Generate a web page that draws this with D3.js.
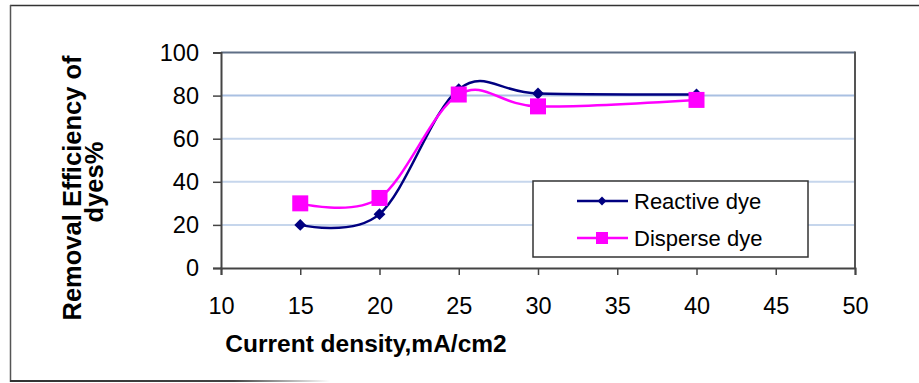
<!DOCTYPE html>
<html>
<head>
<meta charset="utf-8">
<script src="https://cdn.jsdelivr.net/npm/d3@7"></script>
<style>
  body { margin: 0; background: #fff; }
  text { font-family: "Liberation Sans", Arial, sans-serif; fill: #000; }
</style>
</head>
<body>
<svg id="chart"></svg>
<script>
// data
var density = [15, 20, 25, 30, 40];
var reactive = [20, 25, 83, 81, 80.5];
var disperse = [30, 32.5, 80.5, 75, 78];
var xTicks = [10, 15, 20, 25, 30, 35, 40, 45, 50];
var yTicks = [0, 20, 40, 60, 80, 100];

var width = 919, height = 383;
var plotLeft = 221, plotRight = 855, plotTop = 52.5, plotBottom = 268;

var svg = d3.select("#chart").attr("width", width).attr("height", height);

// outer frame
var grad = svg.append("defs").append("linearGradient").attr("id", "fade");
grad.append("stop").attr("offset", "0%").attr("stop-color", "#333");
grad.append("stop").attr("offset", "70%").attr("stop-color", "#444");
grad.append("stop").attr("offset", "100%").attr("stop-color", "#fff");
svg.append("line").attr("x1", 10).attr("x2", 919).attr("y1", 5.5).attr("y2", 5.5)
    .attr("stroke", "#333").attr("stroke-width", 1.5);
svg.append("line").attr("x1", 10.5).attr("x2", 10.5).attr("y1", 5).attr("y2", 382)
    .attr("stroke", "#555").attr("stroke-width", 1.5);
svg.append("rect").attr("x", 10).attr("y", 380).attr("width", 320).attr("height", 2)
    .attr("fill", "url(#fade)");

var x = d3.scaleLinear().domain([10, 50]).range([plotLeft, plotRight]);
var y = d3.scaleLinear().domain([0, 100]).range([plotBottom, plotTop]);

// gridlines
svg.append("g").selectAll("line")
    .data([20, 40, 60, 80])
    .enter().append("line")
    .attr("x1", plotLeft).attr("x2", plotRight)
    .attr("y1", function(d) { return y(d); })
    .attr("y2", function(d) { return y(d); })
    .attr("stroke", function(d) { return d == 80 ? "#a9c0e2" : "#c6d6ec"; })
    .attr("stroke-width", 2);

// plot border top/right
svg.append("line").attr("x1", plotLeft).attr("x2", plotRight).attr("y1", y(100)).attr("y2", y(100))
    .attr("stroke", "#5f6f86").attr("stroke-width", 2);
svg.append("line").attr("x1", plotRight).attr("x2", plotRight).attr("y1", y(100) - 1).attr("y2", plotBottom)
    .attr("stroke", "#555").attr("stroke-width", 2);

// axes
var yAxis = svg.append("g")
    .attr("transform", "translate(" + plotLeft + ",0)")
    .call(d3.axisLeft(y).tickValues(yTicks).tickSize(8).tickPadding(14));
var xAxis = svg.append("g")
    .attr("transform", "translate(0," + plotBottom + ")")
    .call(d3.axisBottom(x).tickValues(xTicks).tickSize(7).tickPadding(31));
[yAxis, xAxis].forEach(function(a) {
  a.select(".domain").attr("stroke", "#444").attr("stroke-width", 2);
  a.selectAll(".tick line").attr("stroke", "#444").attr("stroke-width", 1.5);
  a.selectAll(".tick text").style("font-size", "23.5px").attr("fill", "#000");
});
xAxis.selectAll(".tick text").attr("dy", "0.35em");

// axis titles
svg.append("text")
    .attr("x", 366).attr("y", 352)
    .attr("text-anchor", "middle")
    .style("font-size", "24.5px").style("font-weight", "bold")
    .text("Current density,mA/cm2");
var yt = svg.append("text")
    .attr("transform", "translate(81,188) rotate(-90)")
    .attr("text-anchor", "middle")
    .style("font-size", "25.5px").style("font-weight", "bold");
yt.append("tspan").attr("x", 0).attr("y", 0).text("Removal Efficiency of");
yt.append("tspan").attr("x", 6).attr("y", 22).text("dyes%");

// lines
var line = function(vals) {
  return d3.line()
    .x(function(d, i) { return x(density[i]); })
    .y(function(d) { return y(d); })
    .curve(d3.curveCardinal.tension(0))(vals);
};
svg.append("path").attr("d", line(reactive))
    .attr("fill", "none").attr("stroke", "#000080").attr("stroke-width", 2.5);
svg.append("path").attr("d", line(disperse))
    .attr("fill", "none").attr("stroke", "#ff00ff").attr("stroke-width", 2.5);

var diamond = d3.symbol().type(d3.symbolDiamond2).size(90);
svg.append("g").selectAll("path")
    .data(reactive)
    .enter().append("path")
    .attr("d", diamond)
    .attr("transform", function(d, i) { return "translate(" + x(density[i]) + "," + y(d) + ")"; })
    .attr("fill", "#000080");
svg.append("g").selectAll("rect")
    .data(disperse)
    .enter().append("rect")
    .attr("x", function(d, i) { return x(density[i]) - 8; })
    .attr("y", function(d) { return y(d) - 8; })
    .attr("width", 16).attr("height", 16)
    .attr("fill", "#ff00ff");

// legend
var lg = svg.append("g");
lg.append("rect").attr("x", 533).attr("y", 181).attr("width", 275).attr("height", 76)
    .attr("fill", "#fff").attr("stroke", "#333").attr("stroke-width", 1.5);
lg.append("line").attr("x1", 577).attr("x2", 628).attr("y1", 201).attr("y2", 201)
    .attr("stroke", "#000080").attr("stroke-width", 2.5);
lg.append("path").attr("d", d3.symbol().type(d3.symbolDiamond2).size(50))
    .attr("transform", "translate(602,201)").attr("fill", "#000080");
lg.append("text").attr("x", 634).attr("y", 209).style("font-size", "22px").text("Reactive dye");
lg.append("line").attr("x1", 577).attr("x2", 628).attr("y1", 238).attr("y2", 238)
    .attr("stroke", "#ff00ff").attr("stroke-width", 2.5);
lg.append("rect").attr("x", 596).attr("y", 232).attr("width", 12).attr("height", 12)
    .attr("fill", "#ff00ff");
lg.append("text").attr("x", 634).attr("y", 246).style("font-size", "22px").text("Disperse dye");
</script>
</body>
</html>
